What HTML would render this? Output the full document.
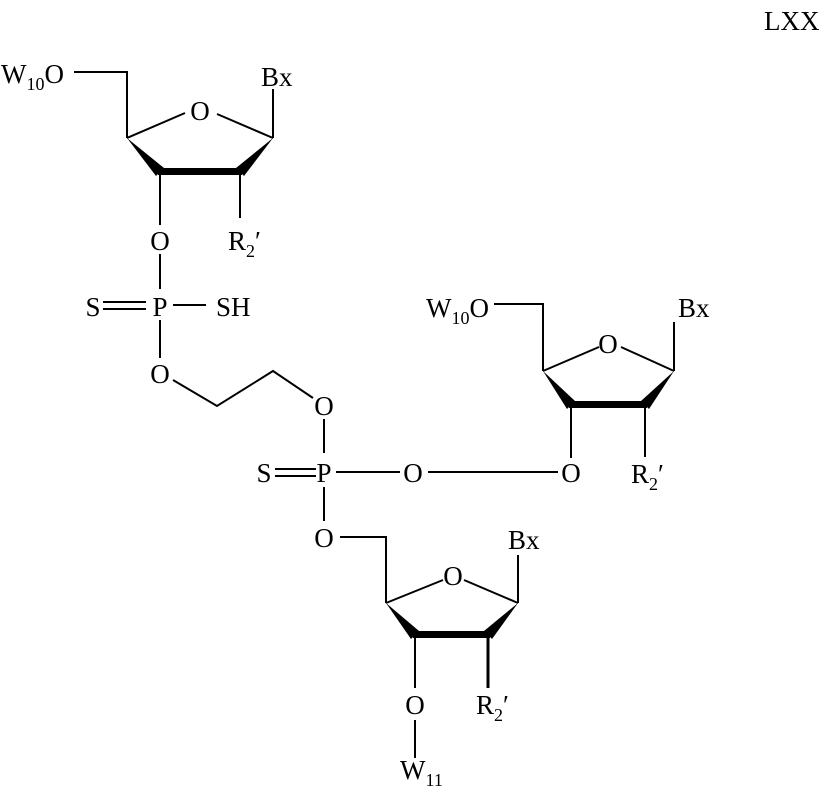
<!DOCTYPE html>
<html><head><style>
html,body{margin:0;padding:0;background:#fff;}
svg{display:block;}
text{font-family:"Liberation Serif",serif;font-size:27px;fill:#000;}
.s{font-size:18px;}
</style></head><body>
<svg width="826" height="788" viewBox="0 0 826 788" xmlns="http://www.w3.org/2000/svg">
<g stroke="#000" stroke-width="2" fill="none">
<polyline points="74,72 127,72 127,138"/>
<line x1="127" y1="138" x2="185" y2="113"/>
<line x1="217" y1="114" x2="273" y2="138"/>
<line x1="273" y1="138" x2="273" y2="89"/>
<line x1="160" y1="172" x2="160" y2="225"/>
<line x1="240" y1="172" x2="240" y2="218"/>
<line x1="160" y1="254" x2="160" y2="289"/>
<line x1="103" y1="302" x2="146" y2="302"/>
<line x1="103" y1="309" x2="146" y2="309"/>
<line x1="173" y1="305" x2="206" y2="305"/>
<line x1="160" y1="320" x2="160" y2="358"/>
<polyline points="173,380 217,406 273,371 313,398"/>
<line x1="324" y1="419" x2="324" y2="453"/>
<line x1="275" y1="469" x2="316" y2="469"/>
<line x1="275" y1="476" x2="316" y2="476"/>
<line x1="336" y1="472" x2="400" y2="472"/>
<line x1="428" y1="472" x2="558" y2="472"/>
<line x1="324" y1="487" x2="324" y2="521"/>
<polyline points="494,304 543,304 543,371"/>
<line x1="543" y1="371" x2="599" y2="347"/>
<line x1="621" y1="347" x2="674" y2="371"/>
<line x1="674" y1="371" x2="674" y2="322"/>
<line x1="571" y1="405" x2="571" y2="458"/>
<line x1="645" y1="405" x2="645" y2="457"/>
<polyline points="340,537 386,537 386,603"/>
<line x1="386" y1="603" x2="443" y2="580"/>
<line x1="464" y1="580" x2="518" y2="603"/>
<line x1="518" y1="603" x2="518" y2="555"/>
<line x1="415" y1="635" x2="415" y2="688"/>
<line x1="415" y1="720" x2="415" y2="758"/>
<line x1="488" y1="635" x2="488" y2="688" stroke-width="3"/>
</g>
<g fill="#000">
<polygon points="127,138 164,168 156,176"/>
<polygon points="273,138 244,176 236,168"/>
<rect x="158" y="168" width="84" height="7"/>
<polygon points="543,371 575,401 567,409"/>
<polygon points="674,371 649,409 641,401"/>
<rect x="569" y="401" width="78" height="7"/>
<polygon points="386,603 419,631 411,639"/>
<polygon points="518,603 492,639 484,631"/>
<rect x="413" y="631" width="77" height="7"/>
</g>
<g>
<text x="764" y="30">LXX</text>
<text x="1" y="83">W<tspan class="s" dy="7">10</tspan><tspan dy="-7">O</tspan></text>
<text x="200" y="120" text-anchor="middle">O</text>
<text x="261" y="86">Bx</text>
<text x="160" y="250" text-anchor="middle">O</text>
<text x="228" y="250">R<tspan class="s" dy="7">2</tspan><tspan dy="-7">′</tspan></text>
<text x="93" y="316" text-anchor="middle">S</text>
<text x="160" y="316" text-anchor="middle">P</text>
<text x="216" y="316">SH</text>
<text x="160" y="383" text-anchor="middle">O</text>
<text x="324" y="415" text-anchor="middle">O</text>
<text x="264" y="482" text-anchor="middle">S</text>
<text x="324" y="482" text-anchor="middle">P</text>
<text x="413" y="482" text-anchor="middle">O</text>
<text x="571" y="482" text-anchor="middle">O</text>
<text x="426" y="317">W<tspan class="s" dy="7">10</tspan><tspan dy="-7">O</tspan></text>
<text x="608" y="353" text-anchor="middle">O</text>
<text x="678" y="317">Bx</text>
<text x="631" y="483">R<tspan class="s" dy="7">2</tspan><tspan dy="-7">′</tspan></text>
<text x="324" y="547" text-anchor="middle">O</text>
<text x="453" y="585" text-anchor="middle">O</text>
<text x="508" y="549">Bx</text>
<text x="415" y="714" text-anchor="middle">O</text>
<text x="476" y="714">R<tspan class="s" dy="7">2</tspan><tspan dy="-7">′</tspan></text>
<text x="400" y="779">W<tspan class="s" dy="7">11</tspan></text>
</g>
</svg>
</body></html>
